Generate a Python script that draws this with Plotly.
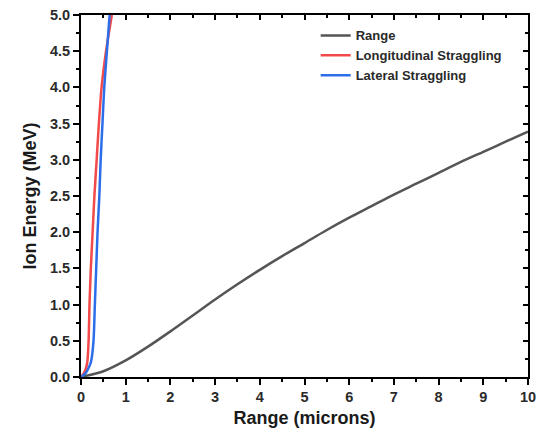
import plotly.graph_objects as go

# Range curve (gray)
range_x = [0, 0.5, 1, 1.5, 2, 2.5, 3, 3.5, 4, 4.5, 5, 5.5, 6, 6.5, 7, 7.5, 8, 8.5, 9, 9.5, 10]
range_e = [0, 0.08, 0.23, 0.42, 0.63, 0.85, 1.07, 1.28, 1.48, 1.67, 1.85, 2.03, 2.20, 2.36, 2.52, 2.67, 2.82, 2.97, 3.11, 3.25, 3.39]

# Longitudinal straggling (red)
long_e = [0, 0.05, 0.1, 0.2, 0.5, 1.0, 1.5, 2.0, 2.5, 3.0, 3.5, 4.0, 4.5, 5.0]
long_x = [0, 0.06, 0.10, 0.14, 0.17, 0.19, 0.22, 0.26, 0.30, 0.35, 0.40, 0.46, 0.56, 0.69]

# Lateral straggling (blue)
lat_e = [0, 0.05, 0.1, 0.2, 0.5, 1.0, 1.5, 2.0, 2.5, 3.0, 3.5, 4.0, 4.5, 5.0]
lat_x = [0, 0.10, 0.15, 0.22, 0.28, 0.31, 0.34, 0.37, 0.41, 0.44, 0.48, 0.52, 0.58, 0.64]

FONT = "Liberation Sans, Arial, sans-serif"

fig = go.Figure()
fig.add_trace(go.Scatter(x=range_x, y=range_e, mode="lines", name="Range",
                         line=dict(color="#555555", width=2.5, shape="spline", smoothing=0.8)))
fig.add_trace(go.Scatter(x=long_x, y=long_e, mode="lines", name="Longitudinal Straggling",
                         line=dict(color="#F24A4A", width=2.5, shape="spline", smoothing=0.6)))
fig.add_trace(go.Scatter(x=lat_x, y=lat_e, mode="lines", name="Lateral Straggling",
                         line=dict(color="#2C6EEA", width=2.5, shape="spline", smoothing=0.6)))
# helper trace for mirrored axes (top/right inward ticks)
fig.add_trace(go.Scatter(x=[None], y=[None], xaxis="x2", yaxis="y2", showlegend=False,
                         hoverinfo="skip"))

tickfont = dict(family=FONT, size=14.5, color="#2a2a2a", weight="bold")
titlefont = dict(family=FONT, size=18, color="#1a1a1a", weight="bold")

fig.update_layout(
    width=538, height=430,
    margin=dict(l=81, r=10, t=15, b=53, autoexpand=False),
    paper_bgcolor="white", plot_bgcolor="white",
    showlegend=True,
    legend=dict(x=0.525, y=0.985, xanchor="left", yanchor="top",
                bgcolor="rgba(0,0,0,0)", borderwidth=0,
                font=dict(family=FONT, size=13, color="#2a2a2a", weight="bold"),
                itemwidth=30, tracegroupgap=0),
    xaxis=dict(range=[0, 10], dtick=1, tick0=0, showgrid=False, zeroline=False,
               showline=True, linecolor="black", linewidth=2, automargin=False,
               ticks="outside", ticklen=6, tickwidth=2, tickcolor="black",
               minor=dict(dtick=0.5, ticks="outside", ticklen=3, tickwidth=2, tickcolor="black"),
               tickfont=tickfont,
               title=dict(text="Range (microns)", font=titlefont, standoff=7)),
    yaxis=dict(range=[0, 5], dtick=0.5, tick0=0, tickformat=".1f", showgrid=False, zeroline=False,
               showline=True, linecolor="black", linewidth=2, automargin=False,
               ticks="outside", ticklen=6, tickwidth=2, tickcolor="black",
               minor=dict(dtick=0.25, ticks="outside", ticklen=3, tickwidth=2, tickcolor="black"),
               tickfont=tickfont,
               title=dict(text="Ion Energy (MeV)", font=titlefont, standoff=9)),
    xaxis2=dict(range=[0, 10], overlaying="x", side="top", anchor="y2", dtick=1, tick0=0,
                showgrid=False, zeroline=False, showline=True, linecolor="black", linewidth=2,
                automargin=False,
                ticks="inside", ticklen=5, tickwidth=2, tickcolor="black",
                minor=dict(dtick=0.5, ticks="inside", ticklen=3, tickwidth=2, tickcolor="black"),
                showticklabels=False),
    yaxis2=dict(range=[0, 5], overlaying="y", side="right", anchor="x2", dtick=0.5, tick0=0,
                showgrid=False, zeroline=False, showline=True, linecolor="black", linewidth=2,
                automargin=False,
                ticks="inside", ticklen=5, tickwidth=2, tickcolor="black",
                minor=dict(dtick=0.25, ticks="inside", ticklen=3, tickwidth=2, tickcolor="black"),
                showticklabels=False),
)

fig.write_html("out.html")
